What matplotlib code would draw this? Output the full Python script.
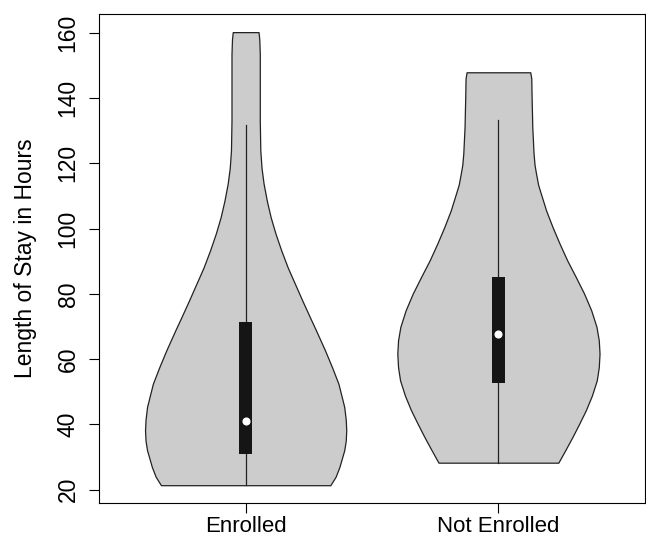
import matplotlib
matplotlib.use("Agg")
import matplotlib.pyplot as plt
import numpy as np

plt.rcParams["font.family"] = ["Liberation Sans", "DejaVu Sans"]

groups = ["Enrolled", "Not Enrolled"]

# violin outline: y value and half width (x units)
enr_y = [21.4, 24.0, 27.0, 32.1, 35.0, 38.2, 41.5, 45.4, 48.5, 52.5, 57.5, 62.7,
         68.9, 72.9, 78.0, 83.1, 88.0, 93.3, 98.5, 103.5, 108.5, 113.8, 118.5,
         124.0, 133.1, 153.5, 158.0, 160.2]
enr_hw = [0.335, 0.356, 0.371, 0.390, 0.396, 0.398, 0.396, 0.390, 0.380, 0.367, 0.342, 0.314,
          0.278, 0.254, 0.224, 0.195, 0.167, 0.141, 0.118, 0.099, 0.084, 0.071, 0.063,
          0.058, 0.056, 0.056, 0.054, 0.051]

not_y = [28.3, 32.2, 36.2, 40.3, 44.4, 48.9, 53.5, 57.5, 61.7, 65.8, 69.9, 75.0,
         80.1, 85.2, 90.3, 95.4, 100.5, 105.5, 110.7, 113.5, 116.8, 119.5, 123.0,
         131.1, 141.3, 146.0, 147.9]
not_hw = [0.237, 0.265, 0.293, 0.320, 0.346, 0.370, 0.389, 0.397, 0.400, 0.397, 0.388, 0.367,
          0.339, 0.306, 0.272, 0.242, 0.214, 0.189, 0.168, 0.157, 0.149, 0.143, 0.139,
          0.134, 0.131, 0.130, 0.126]

# box stats: whisker low, q1, median, q3, whisker high
whisk_lo = [21.4, 28.3]
q1 = [31.1, 52.8]
median = [41.0, 67.6]
q3 = [71.4, 85.1]
whisk_hi = [131.6, 133.3]

fig = plt.figure(figsize=(6.46, 5.39), dpi=100)
ax = fig.add_axes([0.1533, 0.0662, 0.8452, 0.9078])

profiles = [(enr_y, enr_hw), (not_y, not_hw)]
for i, (yy, hw) in enumerate(profiles):
    pos = i + 1
    yy = np.array(yy)
    hw = np.array(hw)
    ax.fill_betweenx(yy, pos - hw, pos + hw, facecolor="#cccccc",
                     edgecolor="#222222", linewidth=0.9, zorder=1)
    ax.plot([pos, pos], [whisk_lo[i], whisk_hi[i]], color="#222222", lw=0.9, zorder=2)

x = np.arange(1, len(groups) + 1)
ax.bar(x, np.array(q3) - np.array(q1), bottom=q1, width=0.053,
       color="#151515", zorder=3)
ax.scatter(x, median, s=34, color="white", zorder=4, linewidths=0)

ax.set_xlim(0.42, 2.58)
ax.set_ylim(15.85, 165.75)
ax.set_xticks(x)
ax.set_xticklabels(groups, fontsize=16)
ax.set_yticks(np.arange(20, 161, 20))
ax.set_yticklabels([str(v) for v in range(20, 161, 20)], rotation=90,
                   va="center", fontsize=16.5)
ax.tick_params(axis="y", length=7, width=0.8, pad=7)
ax.tick_params(axis="x", length=7, width=0.8, pad=2)
ax.set_ylabel("Length of Stay in Hours", fontsize=16.5, labelpad=14)

for s in ax.spines.values():
    s.set_linewidth(0.8)

fig.savefig("out.png", dpi=100)
